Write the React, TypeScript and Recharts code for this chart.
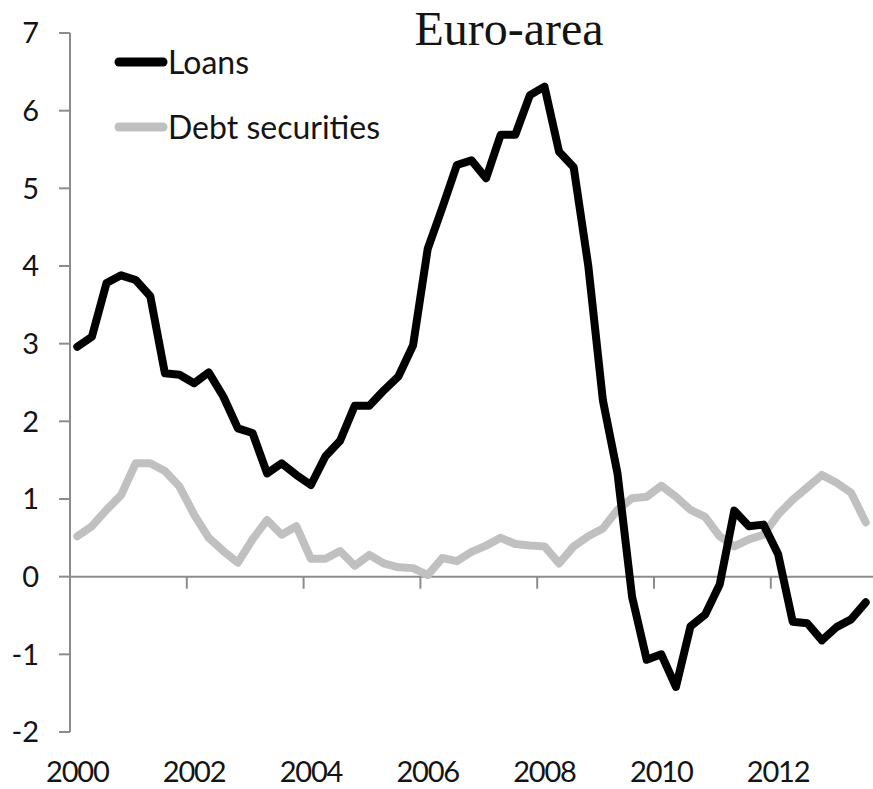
import React from 'react';
import { LineChart, Line, XAxis, YAxis, ReferenceLine, Legend } from 'recharts';

// Quarterly observations, 2000Q1 .. 2013Q3
const years = ['2000', '2001', '2002', '2003', '2004', '2005', '2006', '2007', '2008', '2009', '2010', '2011', '2012', '2013'];
const quarterNames = ['Q1', 'Q2', 'Q3', 'Q4'];

const loans = [
  2.96, 3.09, 3.78, 3.88, 3.82, 3.61, 2.62, 2.6, 2.49, 2.63,
  2.32, 1.91, 1.85, 1.33, 1.46, 1.31, 1.18, 1.55, 1.75, 2.2,
  2.2, 2.4, 2.58, 2.98, 4.22, 4.75, 5.3, 5.36, 5.13, 5.69,
  5.69, 6.2, 6.31, 5.47, 5.27, 4.0, 2.27, 1.33, -0.26, -1.07,
  -1.0, -1.42, -0.64, -0.49, -0.1, 0.85, 0.65, 0.67, 0.29, -0.58,
  -0.6, -0.82, -0.65, -0.55, -0.33,
];

const debtSecurities = [
  0.52, 0.65, 0.86, 1.05, 1.46, 1.46, 1.36, 1.16, 0.8, 0.5,
  0.33, 0.18, 0.48, 0.73, 0.54, 0.65, 0.23, 0.23, 0.33, 0.14,
  0.28, 0.17, 0.12, 0.11, 0.02, 0.24, 0.2, 0.32, 0.4, 0.5,
  0.42, 0.4, 0.39, 0.17, 0.39, 0.52, 0.62, 0.86, 1.01, 1.03,
  1.17, 1.03, 0.86, 0.77, 0.52, 0.39, 0.48, 0.54, 0.8, 0.99,
  1.15, 1.31, 1.21, 1.08, 0.7,
];

const yTicks = [-2, -1, 0, 1, 2, 3, 4, 5, 6, 7];
const xLabelYears = ['2000', '2002', '2004', '2006', '2008', '2010', '2012'];

const quarters: string[] = [];
years.forEach((y) => quarterNames.forEach((q) => quarters.push(y + q)));

const data = loans.map((v, i) => ({
  i,
  quarter: quarters[i],
  loans: v,
  debt: debtSecurities[i],
}));

const xTickIndex = xLabelYears.map((y) => quarters.indexOf(y + 'Q1'));
const boundaryTicks = xTickIndex.filter((t) => t > 0).map((t) => t - 0.5);

const SANS = "Lato, 'Open Sans', sans-serif";
const AXIS = '#8c8c8c';
const TEXT = '#141414';

const renderLegend = (props: any) => {
  const payload = props.payload || [];
  return (
    <div style={{ fontFamily: SANS, fontSize: 32, color: TEXT }}>
      {payload.map((p: any) => (
        <div key={p.value} style={{ display: 'flex', alignItems: 'center', height: 65 }}>
          <svg width={54} height={12} style={{ display: 'block' }}>
            <line x1={5} y1={6} x2={49} y2={6} stroke={p.color} strokeWidth={9} strokeLinecap="round" />
          </svg>
          <span style={{ lineHeight: 1, whiteSpace: 'nowrap' }}>{p.value}</span>
        </div>
      ))}
    </div>
  );
};

export default function App() {
  return (
    <div style={{ position: 'absolute', left: 0, top: 0, width: 873, height: 789, background: '#fff' }}>
      <LineChart width={873} height={789} data={data} margin={{ top: 33, right: 0, bottom: 0, left: 0 }}>
        <XAxis
          type="number"
          dataKey="i"
          domain={[-0.5, 54.5]}
          ticks={xTickIndex}
          tickFormatter={(v: number) => quarters[v].slice(0, 4)}
          axisLine={false}
          tickLine={false}
          tickSize={0}
          tickMargin={29}
          height={57}
          interval={0}
          tick={{ fontFamily: SANS, fontSize: 29, fill: TEXT, letterSpacing: -1.2 }}
        />
        <YAxis
          type="number"
          domain={[-2, 7]}
          ticks={yTicks}
          interval={0}
          width={70}
          axisLine={{ stroke: AXIS, strokeWidth: 2 }}
          tickLine={{ stroke: AXIS, strokeWidth: 2 }}
          tickSize={11}
          tickMargin={20}
          tick={{ fontFamily: SANS, fontSize: 29, fill: TEXT }}
        />
        <ReferenceLine y={0} stroke={AXIS} strokeWidth={2} />
        {boundaryTicks.map((b) => (
          <ReferenceLine
            key={b}
            segment={[{ x: b, y: 0 }, { x: b, y: -0.155 }]}
            stroke={AXIS}
            strokeWidth={2}
          />
        ))}
        <Line
          type="linear"
          dataKey="debt"
          name="Debt securities"
          stroke="#c0c0c0"
          strokeWidth={8}
          dot={false}
          strokeLinejoin="round"
          strokeLinecap="round"
          isAnimationActive={false}
          legendType="line"
        />
        <Line
          type="linear"
          dataKey="loans"
          name="Loans"
          stroke="#000000"
          strokeWidth={8}
          dot={false}
          strokeLinejoin="round"
          strokeLinecap="round"
          isAnimationActive={false}
          legendType="line"
        />
        <Legend
          layout="vertical"
          align="center"
          verticalAlign="middle"
          itemSorter={(item: any) => (item.value === 'Loans' ? 0 : 1)}
          wrapperStyle={{ left: 114, top: 29, width: 'auto', height: 'auto' }}
          content={renderLegend}
        />
      </LineChart>
      <svg width={873} height={789} style={{ position: 'absolute', left: 0, top: 0, pointerEvents: 'none' }}>
        <text x={509} y={45} textAnchor="middle" fontFamily="'Liberation Serif', 'Times New Roman', serif" fontSize={48} fill={TEXT}>
          Euro-area
        </text>
      </svg>
    </div>
  );
}
